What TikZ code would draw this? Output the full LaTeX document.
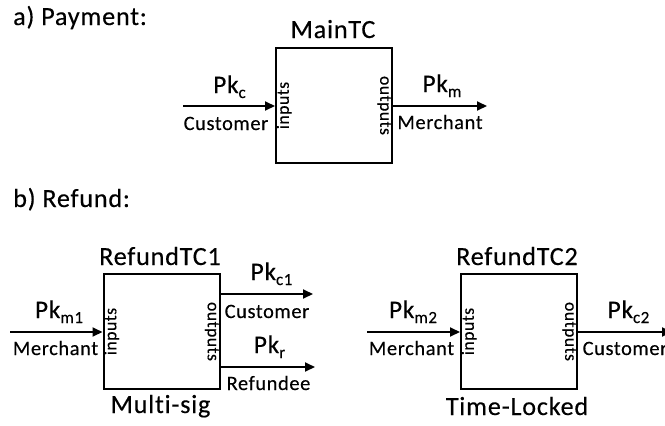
\documentclass[tikz,border=0pt]{standalone}
\usepackage{fontspec}
\setmainfont{Carlito}[LetterSpace=3,Ligatures=NoCommon,FakeBold=0.3]
\usetikzlibrary{arrows.meta}
\newcommand\pkk[1]{Pk\raisebox{-5pt}{\fontsize{17}{17}\selectfont #1}}
\begin{document}
\begin{tikzpicture}[x=1pt,y=-1pt,
 box/.style={draw,line width=2pt,minimum width=116pt,minimum height=115pt,inner sep=0pt},
 arr/.style={line width=2pt,-{Triangle[length=10pt,width=9pt]}},
 big/.style={font=\fontsize{26.2}{28}\selectfont,inner sep=0pt,anchor=base},
 pk/.style={font=\fontsize{25.3}{27}\selectfont,inner sep=0pt,anchor=base},
 lbl/.style={font=\fontsize{20.4}{22}\selectfont,inner sep=0pt,anchor=base},
 io/.style={font=\fontsize{17.6}{19}\selectfont,inner sep=1.5pt}]
\useasboundingbox (0,0) rectangle (665,426);
\clip (0,0) rectangle (665,426);
% a) Payment
\node[big,anchor=base west] (ta) at (13,25) {a) Payment:};
\node[box] (main) at (334,105.5) {};
\node[big] (mainl) at (333,38) {MainTC};
\node[io,rotate=90,anchor=north] (mi) at (main.west) {inputs};
\node[io,rotate=-90,anchor=north] (mo) at (main.east) {outputs};
\coordinate (ma) at (183,106);
\coordinate (mb) at (487,106);
\draw[arr] (ma) -- (ma -| main.west);
\draw[arr] (mb -| main.east) -- (mb);
\node[pk] (pkc) at (229.5,93) {\pkk{c}};
\node[lbl] (cus) at (226,130) {Customer};
\node[pk] (pkm) at (442,92) {\pkk{m}};
\node[lbl] (mer) at (440,129) {Merchant};
% b) Refund
\node[big,anchor=base west] (tb) at (13,207) {b) Refund:};
\node[box] (r1) at (161.5,331.5) {};
\node[big] (r1t) at (160,265) {RefundTC1};
\node[big] (r1m) at (160.5,413) {Multi-sig};
\node[io,rotate=90,anchor=north] (r1i) at (r1.west) {inputs};
\node[io,rotate=-90,anchor=north] (r1o) at (r1.east) {outputs};
\coordinate (r1a) at (10,332);
\draw[arr] (r1a) -- (r1a -| r1.west);
\node[pk] (r1pa) at (59,318) {\pkk{m1}};
\node[lbl] (r1la) at (55.5,355) {Merchant};
\coordinate (r1b) at (313,294);
\draw[arr] (r1b -| r1.east) -- (r1b);
\node[pk] (r1pb) at (271.5,280) {\pkk{c1}};
\node[lbl] (r1lb) at (267,318) {Customer};
\coordinate (r1c) at (315,367);
\draw[arr] (r1c -| r1.east) -- (r1c);
\node[pk] (r1pc) at (269.5,353) {\pkk{r}};
\node[lbl] (r1lc) at (268.5,390) {Refundee};
\node[box] (r2) at (519,331.5) {};
\node[big] (r2t) at (517,265) {RefundTC2};
\node[big] (r2m) at (517,415) {Time-Locked};
\node[io,rotate=90,anchor=north] (r2i) at (r2.west) {inputs};
\node[io,rotate=-90,anchor=north] (r2o) at (r2.east) {outputs};
\coordinate (r2a) at (367,332);
\draw[arr] (r2a) -- (r2a -| r2.west);
\node[pk] (r2pa) at (413,318) {\pkk{m2}};
\node[lbl] (r2la) at (411.5,355) {Merchant};
\coordinate (r2b) at (672,332);
\draw[arr] (r2b -| r2.east) -- (r2b);
\node[pk] (r2pb) at (628.5,318) {\pkk{c2}};
\node[lbl] (r2lb) at (625,355) {Customer};
\end{tikzpicture}
\end{document}
